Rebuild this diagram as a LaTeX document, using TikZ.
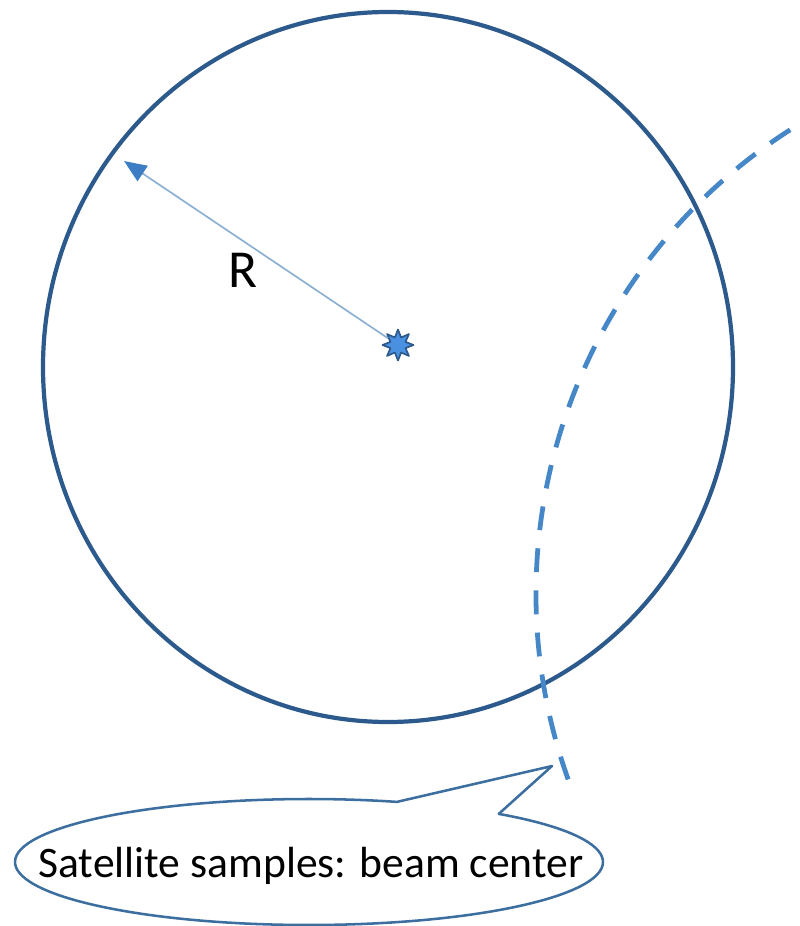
\documentclass[tikz,border=0pt]{standalone}
\usepackage{fontspec}
\setmainfont{Carlito}
\usetikzlibrary{arrows.meta,shapes.geometric}
\definecolor{ringblue}{RGB}{45,90,140}
\definecolor{trackblue}{RGB}{70,135,200}
\definecolor{arrowblue}{RGB}{140,175,210}
\definecolor{tipblue}{RGB}{60,125,195}
\definecolor{hubblue}{RGB}{75,145,225}
\definecolor{bubbleblue}{RGB}{60,110,160}
\begin{document}
\begin{tikzpicture}[x=0.025cm,y=-0.025cm,line join=round,
    ring/.style={draw=ringblue,line width=3pt},
    track/.style={draw=trackblue,line width=3.4pt,dash pattern=on 17pt off 13pt},
    radius arrow/.style={draw=arrowblue,line width=1.2pt,-{Triangle[length=16pt,width=13pt,color=tipblue]}},
    bubble/.style={draw=bubbleblue,line width=1.8pt,fill=white}]
  \useasboundingbox (0,0) rectangle (800,926);
  % coverage circle and beam track
  \draw[ring] (388,367) ellipse[x radius=345,y radius=355];
  \draw[track] (1087,594) ++(237.4:551) arc[start angle=237.4,end angle=159.7,radius=551];
  % centre and radius
  \node[star,star points=8,star point ratio=1.9,minimum size=22pt,inner sep=0pt,
        fill=hubblue,draw=ringblue,line width=1.2pt] (hub) at (398,345) {};
  \coordinate (rim) at (124,161);
  \draw[radius arrow] (hub) -- (rim);
  \node[font=\fontsize{38}{40}\selectfont] (rlabel) at (243,270) {R};
  % callout
  \coordinate (tip) at (552,766);
  \draw[bubble] (309,862) ++(-49.8:294 and 63)
    arc[start angle=-49.8,end angle=287.4,x radius=294,y radius=63] -- (tip) -- cycle;
  \node[font=\fontsize{31}{36}\selectfont,anchor=base] (caption) at (311,877) {Satellite samples: beam center};
\end{tikzpicture}
\end{document}
